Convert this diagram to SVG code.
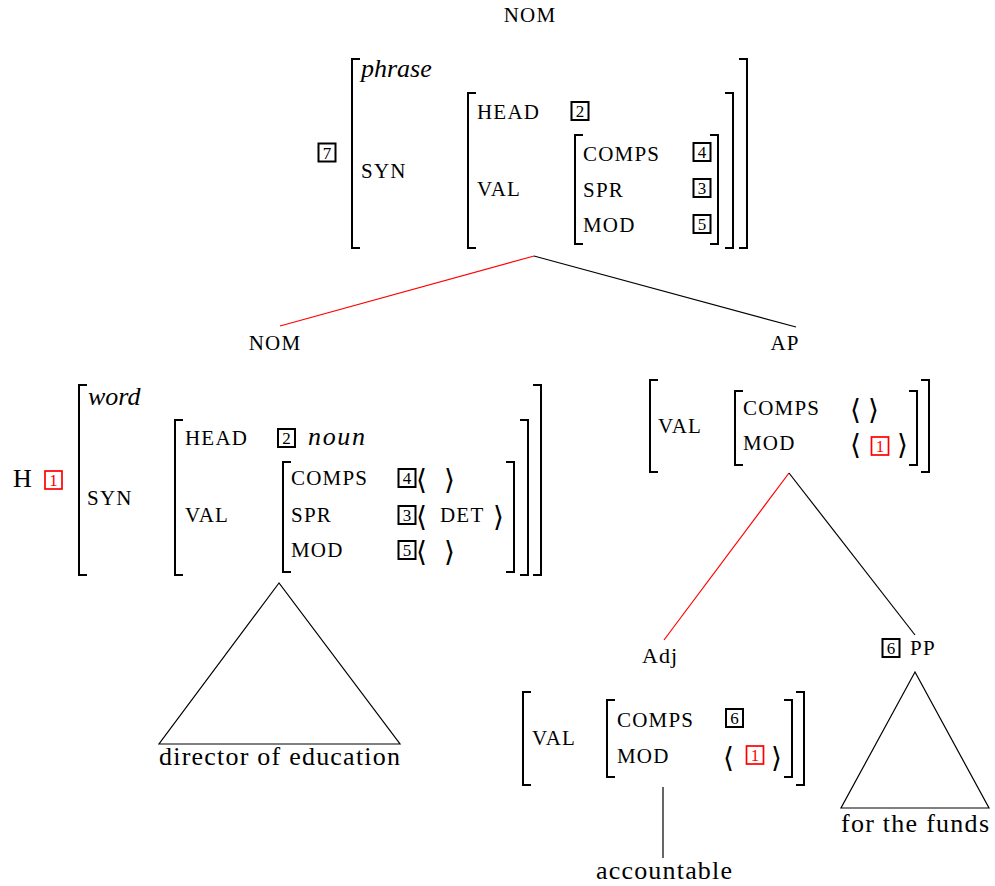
<svg xmlns="http://www.w3.org/2000/svg" width="995" height="886" viewBox="0 0 995 886">
  <style>
    text { font-family: "Liberation Serif", "DejaVu Serif", serif; fill: #000; }
    .rm { font-size: 26px; }
    .it { font-size: 26px; font-style: italic; }
    .cat { font-size: 22px; }
    .sc { font-size: 21px; letter-spacing: 1.2px; }
    .mid { text-anchor: middle; }
    .br { fill: none; stroke: #000; stroke-width: 2; }
    .edge { fill: none; stroke: #000; stroke-width: 1.2; }
    .edge.hd { stroke: #ff0000; }
    .tag rect { fill: #fff; stroke: #000; stroke-width: 2; }
    .tag text { font-size: 17px; text-anchor: middle; }
    .tag.red rect { stroke: #ff0000; stroke-width: 1.7; }
    .tag.red text { fill: #ff0000; }
    text.ang { font-family: "DejaVu Sans", sans-serif; font-size: 28px; }
  </style>

  <!-- tree edges: red = head path -->
  <g id="connectors">
    <line class="edge hd" x1="534" y1="256" x2="280" y2="326"/>
    <line class="edge" x1="534" y1="256" x2="796" y2="327"/>
    <line class="edge hd" x1="789" y1="473" x2="664" y2="640"/>
    <line class="edge" x1="789" y1="473" x2="915" y2="635"/>
    <line class="edge" x1="663" y1="787" x2="663" y2="858"/>
    <polygon class="edge" points="279,583 159,744 400,744"/>
    <polygon class="edge" points="915,672 841,808 989,808"/>
  </g>

  <!-- mother NOM -->
  <g id="node-nom-root">
    <text class="sc mid" x="530" y="22">NOM</text>
    <g class="tag"><rect x="318.5" y="143.5" width="17" height="18"/><text x="327" y="158.5">7</text></g>
    <path class="br" d="M360 59 H352 V248 H360"/>
    <path class="br" d="M739 59 H747 V248 H739"/>
    <text class="it" x="361" y="77">phrase</text>
    <text class="sc" x="361" y="178">SYN</text>
    <path class="br" d="M476 93 H468 V248 H476"/>
    <path class="br" d="M725 93 H733 V248 H725"/>
    <text class="sc" x="477" y="119">HEAD</text>
    <g class="tag"><rect x="571.5" y="102" width="17" height="18"/><text x="580" y="117">2</text></g>
    <text class="sc" x="477" y="196">VAL</text>
    <path class="br" d="M583 135 H575 V244 H583"/>
    <path class="br" d="M710 135 H718 V244 H710"/>
    <text class="sc" x="583" y="161">COMPS</text>
    <text class="sc" x="583" y="197">SPR</text>
    <text class="sc" x="583" y="232">MOD</text>
    <g class="tag"><rect x="693.5" y="143" width="17" height="18"/><text x="702" y="158">4</text></g>
    <g class="tag"><rect x="693.5" y="179" width="17" height="18"/><text x="702" y="194">3</text></g>
    <g class="tag"><rect x="693.5" y="215" width="17" height="18"/><text x="702" y="230">5</text></g>
  </g>

  <!-- head daughter NOM -->
  <g id="node-nom-head">
    <text class="sc mid" x="275" y="350">NOM</text>
    <text class="rm" x="13" y="487">H</text>
    <g class="tag red"><rect x="45" y="471" width="17" height="18"/><text x="53.5" y="486">1</text></g>
    <path class="br" d="M87 385 H79 V575 H87"/>
    <path class="br" d="M533 385 H541 V575 H533"/>
    <text class="it" x="88" y="405">word</text>
    <text class="sc" x="87" y="505">SYN</text>
    <path class="br" d="M183 420 H175 V575 H183"/>
    <path class="br" d="M520 420 H528 V575 H520"/>
    <text class="sc" x="185" y="445">HEAD</text>
    <g class="tag"><rect x="278" y="429" width="17" height="18"/><text x="286.5" y="444">2</text></g>
    <text class="it" x="308" y="445" textLength="57">noun</text>
    <text class="sc" x="185" y="522">VAL</text>
    <path class="br" d="M291 462 H283 V572 H291"/>
    <path class="br" d="M506 462 H514 V572 H506"/>
    <text class="sc" x="291" y="485">COMPS</text>
    <text class="sc" x="291" y="522">SPR</text>
    <text class="sc" x="291" y="557">MOD</text>
    <g class="tag"><rect x="398.5" y="469" width="17" height="18"/><text x="407" y="484">4</text></g>
    <g class="tag"><rect x="398.5" y="506" width="17" height="18"/><text x="407" y="521">3</text></g>
    <g class="tag"><rect x="398.5" y="541" width="17" height="18"/><text x="407" y="556">5</text></g>
    <text class="ang" x="416" y="489">⟨</text>
    <text class="ang" x="444" y="489">⟩</text>
    <text class="ang" x="416" y="526">⟨</text>
    <text class="sc" x="440" y="522">DET</text>
    <text class="ang" x="493" y="526">⟩</text>
    <text class="ang" x="416" y="561">⟨</text>
    <text class="ang" x="444" y="561">⟩</text>
  </g>

  <!-- adjunct AP -->
  <g id="node-ap">
    <text class="sc mid" x="785" y="350">AP</text>
    <path class="br" d="M658 380 H650 V472 H658"/>
    <path class="br" d="M921 380 H929 V472 H921"/>
    <text class="sc" x="658" y="433">VAL</text>
    <path class="br" d="M743 391 H735 V465 H743"/>
    <path class="br" d="M909 391 H917 V465 H909"/>
    <text class="sc" x="743" y="415">COMPS</text>
    <text class="sc" x="743" y="450">MOD</text>
    <text class="ang" x="850" y="419">⟨</text>
    <text class="ang" x="868" y="419">⟩</text>
    <text class="ang" x="850" y="454">⟨</text>
    <g class="tag red"><rect x="871.5" y="437" width="17" height="18"/><text x="880" y="452">1</text></g>
    <text class="ang" x="897" y="454">⟩</text>
  </g>

  <!-- head daughter Adj -->
  <g id="node-adj">
    <text class="cat" x="642" y="663" textLength="35">Adj</text>
    <path class="br" d="M531 692 H523 V785 H531"/>
    <path class="br" d="M796 692 H804 V785 H796"/>
    <text class="sc" x="532" y="745">VAL</text>
    <path class="br" d="M615 700 H607 V777 H615"/>
    <path class="br" d="M784 700 H792 V777 H784"/>
    <text class="sc" x="617" y="727">COMPS</text>
    <text class="sc" x="617" y="763">MOD</text>
    <g class="tag"><rect x="726" y="709" width="17" height="18"/><text x="734.5" y="724">6</text></g>
    <text class="ang" x="723" y="767">⟨</text>
    <g class="tag red"><rect x="746.5" y="746" width="17" height="18"/><text x="755" y="761">1</text></g>
    <text class="ang" x="771" y="767">⟩</text>
  </g>

  <!-- complement PP -->
  <g id="node-pp">
    <g class="tag"><rect x="882.5" y="639" width="17" height="18"/><text x="891" y="654">6</text></g>
    <text class="sc" x="910" y="655">PP</text>
  </g>

  <!-- leaves -->
  <g id="leaf-director">
    <text class="rm" x="159" y="765" textLength="241">director of education</text>
  </g>
  <g id="leaf-accountable">
    <text class="rm" x="596" y="879" textLength="136">accountable</text>
  </g>
  <g id="leaf-funds">
    <text class="rm" x="841" y="832" textLength="148">for the funds</text>
  </g>
</svg>
